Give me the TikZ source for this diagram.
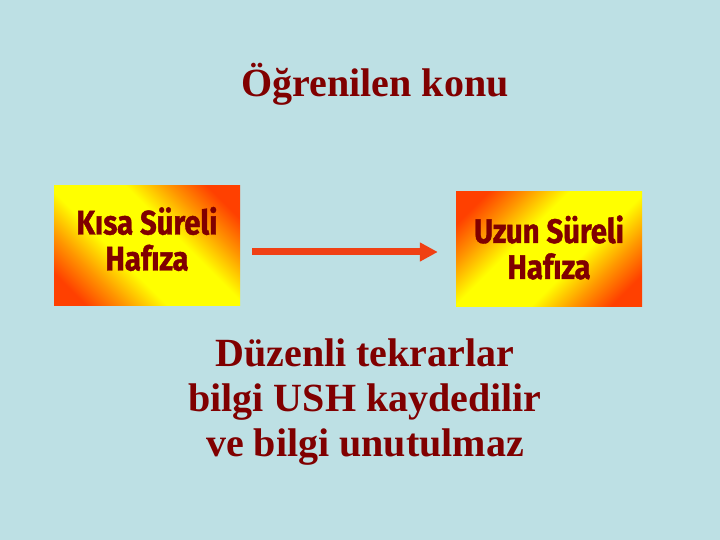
\documentclass[tikz,border=0pt]{standalone}
\usepackage{fontspec}
\setmainfont{Liberation Serif}
\newfontfamily\kutufont[FakeStretch=0.86, BoldFeatures={FakeBold=1.2}]{Fira Sans}
\usetikzlibrary{positioning,arrows.meta}

\definecolor{zemin}{RGB}{189,224,228}
\definecolor{koyukirmizi}{RGB}{128,0,0}
\definecolor{okrengi}{RGB}{240,64,20}
\definecolor{kizil}{RGB}{255,64,0}
\definecolor{turuncu}{RGB}{255,150,0}

\pgfdeclarehorizontalshading{hafiza}{100bp}{color(0bp)=(kizil); color(22bp)=(kizil); color(31bp)=(turuncu); color(41bp)=(yellow); color(59bp)=(yellow); color(69bp)=(turuncu); color(78bp)=(kizil); color(100bp)=(kizil)}

\tikzset{
    baslik/.style={text=koyukirmizi, font=\bfseries\fontsize{40}{46}\selectfont},
    kutu/.style={shading=hafiza, minimum width=186pt, minimum height=120pt},
    kutuyazi/.style={align=center, text=koyukirmizi, font=\kutufont\bfseries\fontsize{34}{36}\selectfont},
    aciklama/.style={text=koyukirmizi, align=center, font=\bfseries\fontsize{40}{45}\selectfont},
    ok/.style={draw=okrengi, line width=7pt, -{Triangle[length=18pt,width=18pt]}},
}

\begin{document}
\begin{tikzpicture}[x=1pt,y=1pt] % KSH ve USH
    \fill[zemin] (0,0) rectangle (720,540);
    \useasboundingbox (0,0) rectangle (720,540);

    \node[baslik, anchor=base] (konu) at (375,443) {Öğrenilen konu};
    \node[kutu, shading angle=45] (ksh) at (147,294) {};
    \node[kutuyazi] (kshyazi) at ([yshift=7pt]ksh.center) {Kısa Süreli\\Hafıza};
    \node[kutu, shading angle=-45, minimum height=115pt] (ush) at (549,290.5) {};
    \node[kutuyazi] (ushyazi) at ([yshift=2pt]ush.center) {Uzun Süreli\\Hafıza};
    \node[aciklama, anchor=north] (tekrar) at (365,205) {Düzenli tekrarlar\\bilgi USH kaydedilir\\ve bilgi unutulmaz};

    \draw[ok, shorten <=12pt, shorten >=18pt] ([yshift=-2.5pt]ush.west -| ksh.east) -- ([yshift=-2.5pt]ush.west);
\end{tikzpicture}
\end{document}
